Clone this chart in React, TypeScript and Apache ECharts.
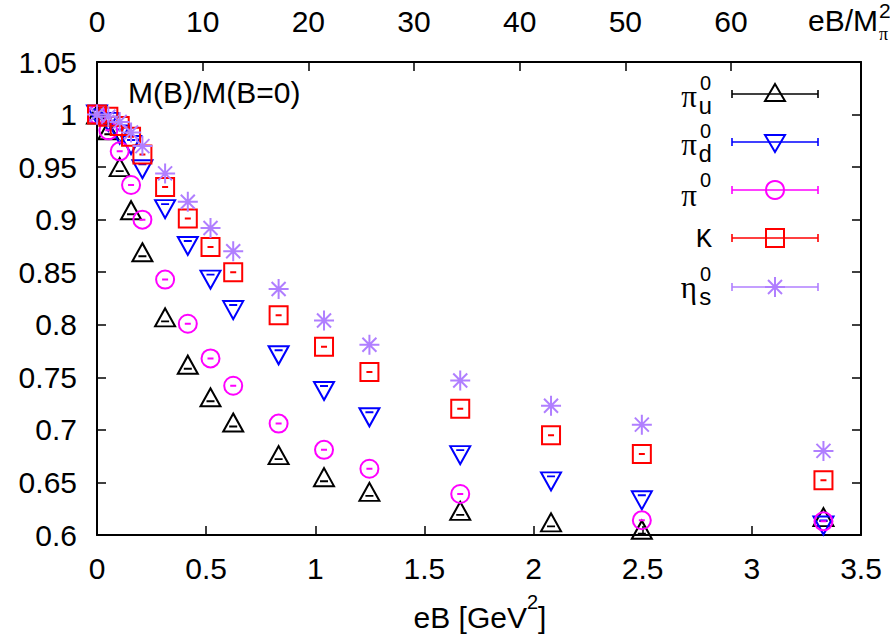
import React, { useEffect, useRef } from 'react';
import * as echarts from 'echarts';

// eB values [GeV^2]
const eBValues = [0, 0.052, 0.104, 0.156, 0.208, 0.312, 0.416, 0.52, 0.624, 0.832, 1.04, 1.248, 1.664, 2.08, 2.496, 3.328];

// M(B)/M(B=0) for each meson
const piU = [1.0, 0.985, 0.950, 0.909, 0.869, 0.807, 0.762, 0.731, 0.707, 0.676, 0.655, 0.641, 0.623, 0.612, 0.605, 0.617];
const piD = [1.0, 0.993, 0.981, 0.971, 0.948, 0.910, 0.875, 0.843, 0.814, 0.771, 0.737, 0.712, 0.676, 0.651, 0.633, 0.609];
const pi0 = [1.0, 0.985, 0.965, 0.933, 0.900, 0.843, 0.801, 0.768, 0.742, 0.706, 0.681, 0.663, 0.639, null, 0.614, 0.613];
const kaon = [1.0, 0.998, 0.989, 0.979, 0.962, 0.931, 0.901, 0.874, 0.850, 0.809, 0.779, 0.755, 0.720, 0.695, 0.677, 0.652];
const etaS = [1.0, 0.998, 0.993, 0.983, 0.970, 0.944, 0.917, 0.892, 0.870, 0.834, 0.804, 0.781, 0.747, 0.723, 0.705, 0.680];

// tick values
const bottomTicks = [0, 0.5, 1, 1.5, 2, 2.5, 3, 3.5];
const topTicks = [0, 10, 20, 30, 40, 50, 60];
const TOP_MAX = 72.3; // eB/M_pi^2 at eB = 3.5 GeV^2

const names = ['π_u^0', 'π_d^0', 'π^0', 'K', 'η_s^0'];
const colors = ['#000000', '#0000ff', '#ff00ff', '#ff0000', '#b07fff'];

const SYM = {
  up: 'path://M0,-10L10,8L-10,8Z M-4,3L4,3',
  down: 'path://M0,10L10,-8L-10,-8Z M-4,-4L4,-4',
  circle: 'path://M-9,0A9,9,0,1,0,9,0A9,9,0,1,0,-9,0Z M-3,0L3,0',
  square: 'path://M-9,-9L9,-9L9,9L-9,9Z M-3,0L3,0',
  star: 'path://M0,-10L0,10 M-10,0L10,0 M-7,-7L7,7 M-7,7L7,-7',
};

const FONT = 'Liberation Sans';

function pairs(ys: (number | null)[]) {
  const out: number[][] = [];
  ys.forEach((y, i) => {
    if (y !== null) out.push([eBValues[i], y]);
  });
  return out;
}

function markerGraphic(kind: string, cx: number, cy: number, color: string) {
  const st = { stroke: color, lineWidth: 2, fill: 'none' };
  if (kind === 'up') {
    return [
      { type: 'polygon', shape: { points: [[cx, cy - 10], [cx + 10, cy + 7], [cx - 10, cy + 7]] }, style: st },
    ];
  }
  if (kind === 'down') {
    return [
      { type: 'polygon', shape: { points: [[cx, cy + 10], [cx + 10, cy - 7], [cx - 10, cy - 7]] }, style: st },
    ];
  }
  if (kind === 'circle') {
    return [{ type: 'circle', shape: { cx, cy, r: 9 }, style: st }];
  }
  if (kind === 'square') {
    return [{ type: 'rect', shape: { x: cx - 9, y: cy - 9, width: 18, height: 18 }, style: st }];
  }
  const r = 10, d = 7;
  return [
    { type: 'line', shape: { x1: cx, y1: cy - r, x2: cx, y2: cy + r }, style: st },
    { type: 'line', shape: { x1: cx - r, y1: cy, x2: cx + r, y2: cy }, style: st },
    { type: 'line', shape: { x1: cx - d, y1: cy - d, x2: cx + d, y2: cy + d }, style: st },
    { type: 'line', shape: { x1: cx - d, y1: cy + d, x2: cx + d, y2: cy - d }, style: st },
  ];
}

export default function App() {
  const ref = useRef<HTMLDivElement>(null);

  useEffect(() => {
    if (!ref.current) return;
    const chart = echarts.init(ref.current, null, { renderer: 'svg' });

    const kinds = ['up', 'down', 'circle', 'square', 'star'];
    const dataSets = [piU, piD, pi0, kaon, etaS];

    const series = dataSets.map((ys, i) => ({
      type: 'scatter',
      name: names[i],
      xAxisIndex: 0,
      yAxisIndex: 0,
      data: pairs(ys),
      symbol: (SYM as any)[kinds[i]],
      symbolSize: kinds[i] === 'up' || kinds[i] === 'down' ? [20, 18] : kinds[i] === 'star' ? 20 : 18,
      itemStyle: { color: 'rgba(0,0,0,0)', borderColor: colors[i], borderWidth: 2, opacity: 1 },
      z: 2 + i,
    }));

    // legend drawn with graphic elements
    const rowY = [94, 142, 190, 238, 287];
    const legendGraphic: any[] = [];
    rowY.forEach((y, i) => {
      const c = colors[i];
      const ls = { stroke: c, lineWidth: 1.6 };
      legendGraphic.push({ type: 'line', shape: { x1: 732, y1: y, x2: 818, y2: y }, style: ls });
      legendGraphic.push({ type: 'line', shape: { x1: 732, y1: y - 4, x2: 732, y2: y + 4 }, style: ls });
      legendGraphic.push({ type: 'line', shape: { x1: 818, y1: y - 4, x2: 818, y2: y + 4 }, style: ls });
      markerGraphic(kinds[i], 775, y, c).forEach((g) => legendGraphic.push(g));
    });
    const greek = (txt: string, y: number) => ({
      type: 'text', x: 697, y,
      style: { text: txt, fontFamily: 'Liberation Serif', fontSize: 31, fill: '#000', align: 'right', verticalAlign: 'middle' },
    });
    const sup = (y: number) => ({
      type: 'text', x: 700, y,
      style: { text: '0', fontFamily: FONT, fontSize: 20, fill: '#000', align: 'left', verticalAlign: 'middle' },
    });
    const sub = (txt: string, y: number) => ({
      type: 'text', x: 698, y,
      style: { text: txt, fontFamily: 'Liberation Mono', fontSize: 24, fill: '#000', align: 'left', verticalAlign: 'middle' },
    });
    legendGraphic.push(greek('π', 96), sup(83), sub('u', 107));
    legendGraphic.push(greek('π', 144), sup(131), sub('d', 155));
    legendGraphic.push(greek('π', 195), sup(180));
    legendGraphic.push({
      type: 'text', x: 712, y: 240,
      style: { text: 'K', fontFamily: 'Liberation Mono', fontSize: 27, fill: '#000', align: 'right', verticalAlign: 'middle' },
    });
    legendGraphic.push(greek('η', 287), sup(274), sub('s', 298));

    const axisLine = { show: true, onZero: false, lineStyle: { color: '#000', width: 2 } };
    const labelStyle = { color: '#000', fontSize: 30, fontFamily: FONT };

    const option: any = {
      animation: false,
      backgroundColor: '#ffffff',
      grid: { left: 97, right: 29, top: 62, bottom: 105, containLabel: false },
      xAxis: [
        {
          type: 'value', position: 'bottom', min: 0, max: 3.5, interval: 0.5,
          axisLine,
          axisTick: { show: true, inside: true, length: 9, lineStyle: { color: '#000', width: 1.5 } },
          axisLabel: { ...labelStyle, margin: 18, formatter: (v: number) => (bottomTicks.includes(v) ? String(v) : '') },
          splitLine: { show: false },
        },
        {
          type: 'value', position: 'top', min: 0, max: TOP_MAX, interval: 10,
          axisLine,
          axisTick: { show: true, inside: true, length: 9, customValues: topTicks, lineStyle: { color: '#000', width: 1.5 } },
          axisLabel: {
            ...labelStyle, margin: 26, customValues: topTicks,
            formatter: (v: number) => (topTicks.includes(v) ? String(v) : ''),
          },
          splitLine: { show: false },
        },
      ],
      yAxis: [
        {
          type: 'value', position: 'left', min: 0.6, max: 1.05, interval: 0.05,
          axisLine,
          axisTick: { show: true, inside: true, length: 9, lineStyle: { color: '#000', width: 1.5 } },
          axisLabel: { ...labelStyle, margin: 20, formatter: (v: number) => String(parseFloat(v.toFixed(2))) },
          splitLine: { show: false },
        },
        {
          type: 'value', position: 'right', min: 0.6, max: 1.05, interval: 0.05,
          axisLine,
          axisTick: { show: true, inside: true, length: 9, lineStyle: { color: '#000', width: 1.5 } },
          axisLabel: { show: false },
          splitLine: { show: false },
        },
      ],
      series,
      graphic: [
        {
          type: 'text', x: 128, y: 92,
          style: { text: 'M(B)/M(B=0)', fontFamily: FONT, fontSize: 30, fill: '#000', align: 'left', verticalAlign: 'middle' },
        },
        {
          type: 'text', x: 480, y: 612,
          style: {
            text: '{n|eB [GeV}{s|2}{n|]}', align: 'center', verticalAlign: 'middle',
            rich: {
              n: { fontFamily: FONT, fontSize: 30, fill: '#000', lineHeight: 40, verticalAlign: 'bottom' },
              s: { fontFamily: FONT, fontSize: 20, fill: '#000', verticalAlign: 'top' },
            },
          },
        },
        {
          type: 'text', x: 808, y: 20,
          style: { text: 'eB/M', fontFamily: FONT, fontSize: 30, fill: '#000', align: 'left', verticalAlign: 'middle' },
        },
        {
          type: 'text', x: 879, y: 10,
          style: { text: '2', fontFamily: FONT, fontSize: 21, fill: '#000', align: 'left', verticalAlign: 'middle' },
        },
        {
          type: 'text', x: 879, y: 34,
          style: { text: 'π', fontFamily: 'Liberation Serif', fontSize: 18, fill: '#000', align: 'left', verticalAlign: 'middle' },
        },
        ...legendGraphic,
      ],
    };

    chart.setOption(option);
    return () => chart.dispose();
  }, []);

  return <div ref={ref} style={{ width: 890, height: 640, position: 'absolute', left: 0, top: 0, background: '#fff' }} />;
}
